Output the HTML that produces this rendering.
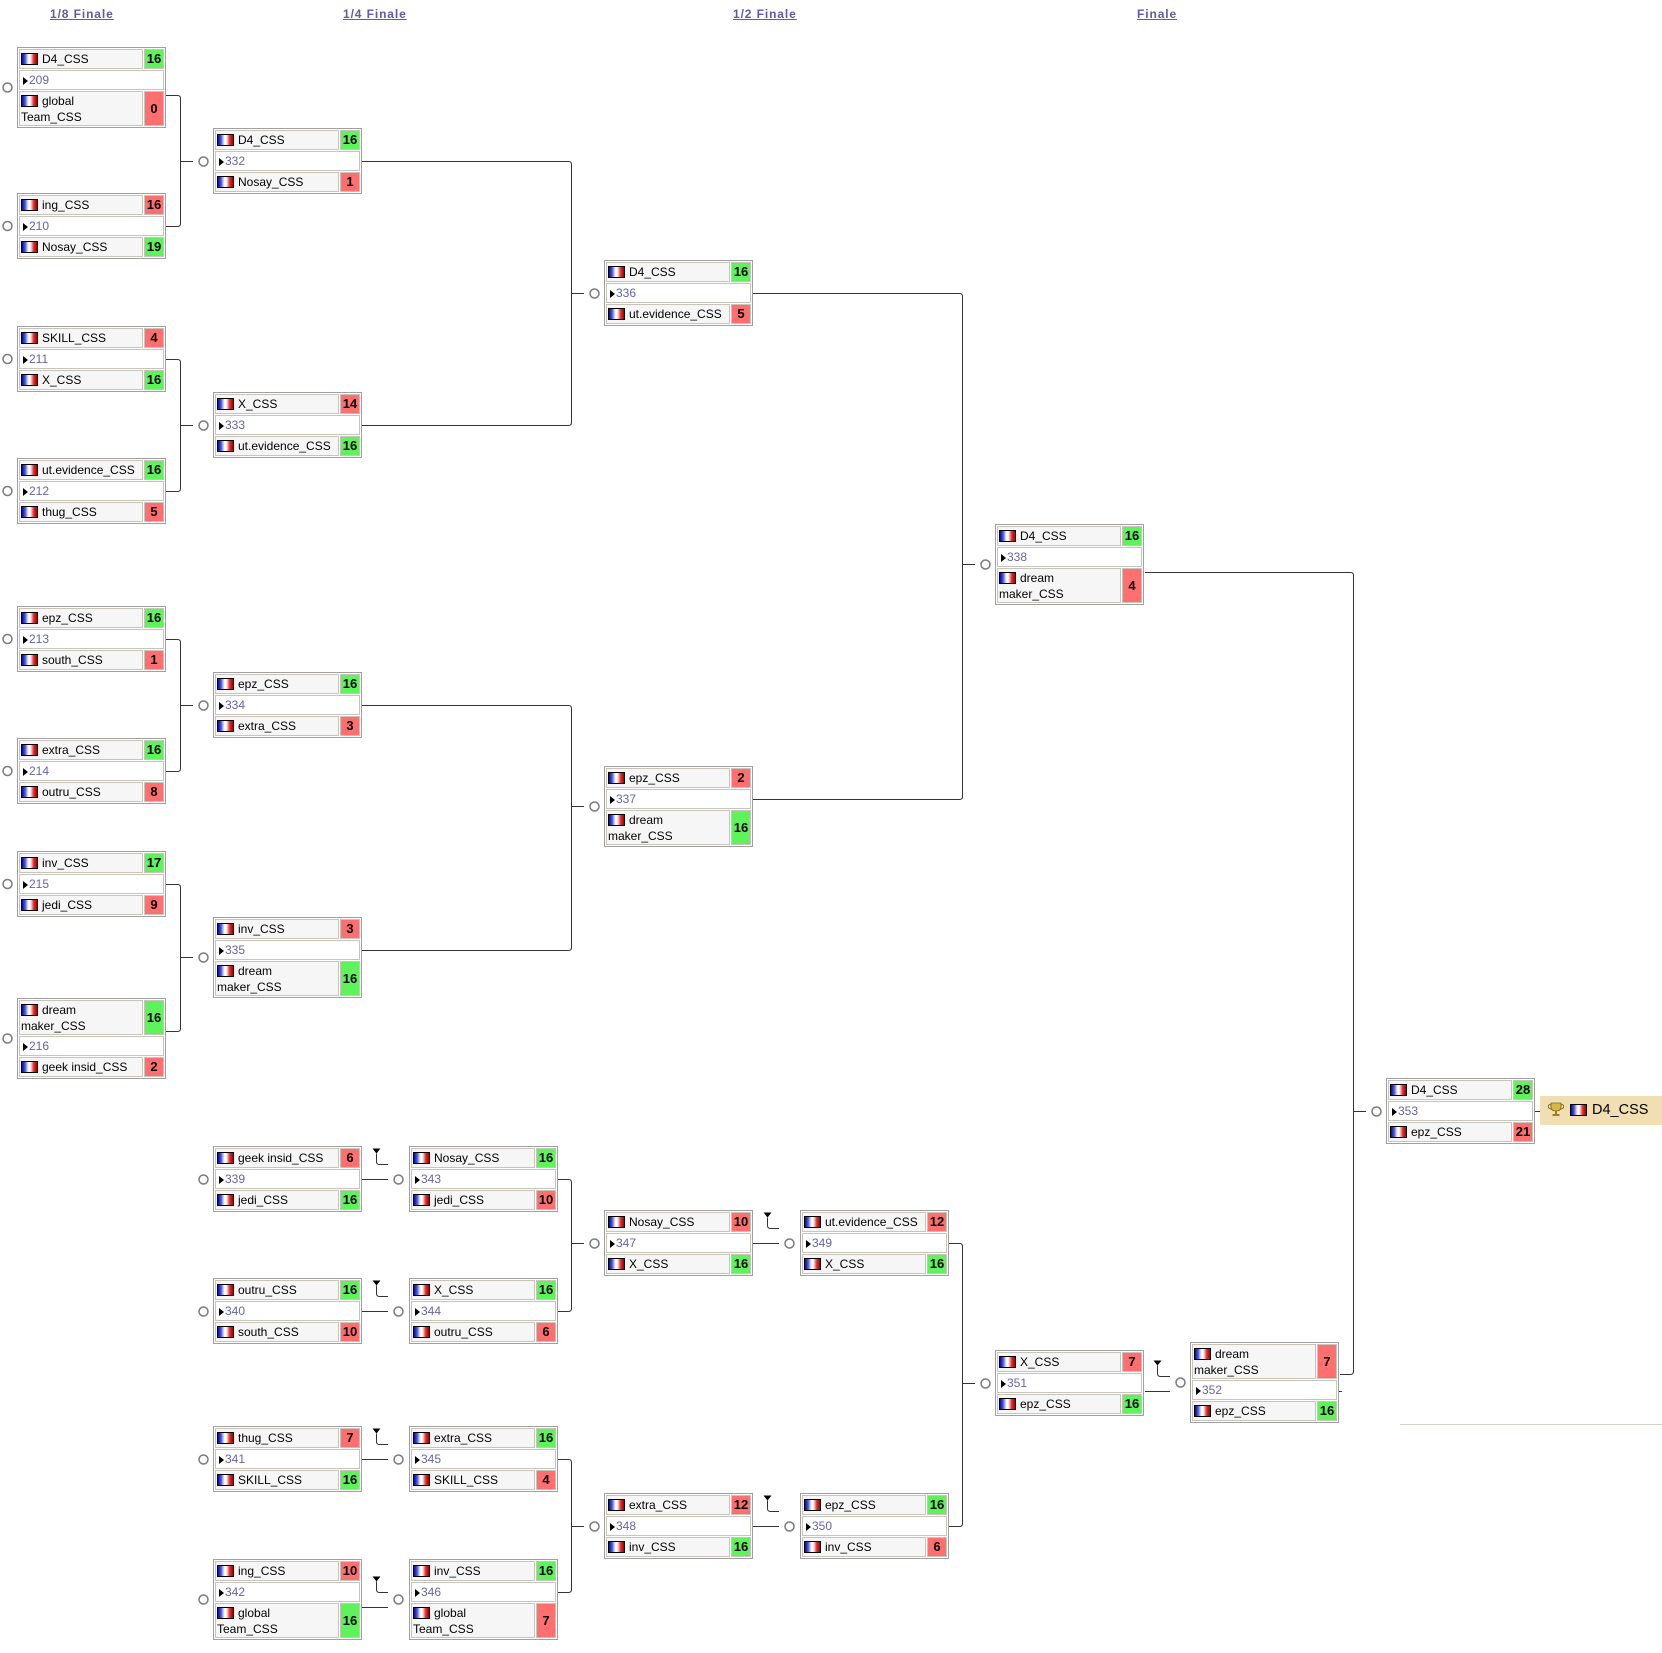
<!DOCTYPE html>
<html><head><meta charset="utf-8"><style>
body{margin:0;width:1662px;height:1653px;position:relative;background:#fff;font-family:"Liberation Sans",sans-serif;overflow:hidden}
.h{position:absolute;top:7px;font-size:12px;font-weight:bold;letter-spacing:0.9px;color:#5c5ca8;text-decoration:underline;line-height:14px}
.b{position:absolute;width:147px;height:64px;border:1px solid #a0a0a0;background:#fff}
.b.t{height:79px}
.c{position:absolute;box-sizing:border-box;border:1px solid #c8c4bc;background:#f6f6f6;font-size:12px;line-height:18px;padding-left:1px;white-space:nowrap;overflow:hidden;color:#000;height:20px}
.n{left:1px;width:124px}
.s{left:126px;width:20px;text-align:center;font-weight:bold;font-size:13px;padding:0}
.m{left:1px;width:145px;background:#fff}
.g{background:#5ef35a}.rd{background:#ff6f6f}
.tl{height:35px;line-height:15.5px;padding-top:2px;white-space:normal}
.s.tl{line-height:33px;padding-top:0}
.a{top:1px}.k{top:22px}.z{top:43px}.k2{top:37px}.z2{top:58px}
.f{display:inline-block;width:15px;height:9.6px;border:1px solid #000;vertical-align:-1.5px;margin:0 4px 0 0;background:linear-gradient(90deg,#0a0a8c,#4a5ee0 22%,#b8c0f0 34%,#fff 44%,#fff 54%,#f4b0b0 64%,#e03030 78%,#a00000)}
.tri{display:inline-block;width:0;height:0;border-left:5px solid #000;border-top:4.5px solid transparent;border-bottom:4.5px solid transparent;margin:0 1.5px 0 1.5px;vertical-align:-1px}
.num{color:#6464aa}
.w{position:absolute;left:1540px;top:1096px;width:122px;height:29px;background:#f1dfb3}
.w .f{position:absolute;left:30px;top:8px;margin:0}
.w span{position:absolute;left:52px;top:5px;font-size:14.5px;line-height:18px;color:#000}
svg{position:absolute;left:0;top:0}
</style></head><body>

<span class="h" style="left:50px">1/8 Finale</span>
<span class="h" style="left:343px">1/4 Finale</span>
<span class="h" style="left:733px">1/2 Finale</span>
<span class="h" style="left:1137px">Finale</span>

<svg width="1662" height="1653" viewBox="0 0 1662 1653">
<g fill="none" stroke="#333" stroke-width="1">
<path d="M166 95.5H177.5Q180.5 95.5 180.5 98.5V223.5Q180.5 226.5 177.5 226.5H166M180.5 161.5H193"/>
<path d="M166 359.5H177.5Q180.5 359.5 180.5 362.5V488.5Q180.5 491.5 177.5 491.5H166M180.5 425.5H193"/>
<path d="M166 639.5H177.5Q180.5 639.5 180.5 642.5V768.5Q180.5 771.5 177.5 771.5H166M180.5 705.5H193"/>
<path d="M166 884.5H177.5Q180.5 884.5 180.5 887.5V1028.5Q180.5 1031.5 177.5 1031.5H166M180.5 957.5H193"/>
<path d="M362 161.5H568.5Q571.5 161.5 571.5 164.5V422.5Q571.5 425.5 568.5 425.5H362M571.5 293.5H584"/>
<path d="M362 705.5H568.5Q571.5 705.5 571.5 708.5V947.5Q571.5 950.5 568.5 950.5H362M571.5 806.5H584"/>
<path d="M753 293.5H959.5Q962.5 293.5 962.5 296.5V796.5Q962.5 799.5 959.5 799.5H753M962.5 564.5H975"/>
<path d="M1145 572.5H1350.5Q1353.5 572.5 1353.5 575.5V1371.5Q1353.5 1374.5 1350.5 1374.5H1340M1353.5 1111.5H1366"/>
<path d="M557 1179.5H568.5Q571.5 1179.5 571.5 1182.5V1308.5Q571.5 1311.5 568.5 1311.5H557M571.5 1243.5H584"/>
<path d="M557 1459.5H568.5Q571.5 1459.5 571.5 1462.5V1589.5Q571.5 1592.5 568.5 1592.5H557M571.5 1526.5H584"/>
<path d="M949 1243.5H959.5Q962.5 1243.5 962.5 1246.5V1523.5Q962.5 1526.5 959.5 1526.5H949M962.5 1383.5H975"/>
<path d="M362 1179.5H388M362 1311.5H388M362 1459.5H388M362 1607.5H388M753 1243.5H779M753 1526.5H779M1145 1391.5H1170M1535 1111.5H1540M1339 1391.5H1342"/>
<path d="M376.5 1153.5V1161.5Q376.5 1164.5 379.5 1164.5H388"/>
<path d="M376.5 1285.5V1293.5Q376.5 1296.5 379.5 1296.5H388"/>
<path d="M376.5 1433.5V1441.5Q376.5 1444.5 379.5 1444.5H388"/>
<path d="M376.5 1581.5V1589.5Q376.5 1592.5 379.5 1592.5H388"/>
<path d="M767.5 1217.5V1225.5Q767.5 1228.5 770.5 1228.5H779"/>
<path d="M767.5 1500.5V1508.5Q767.5 1511.5 770.5 1511.5H779"/>
<path d="M1157.5 1365.5V1373.5Q1157.5 1376.5 1160.5 1376.5H1170"/>
</g>
<g fill="#000">
<polygon points="372.5,1148.5 380.5,1148.5 376.5,1153.5"/>
<polygon points="372.5,1280.5 380.5,1280.5 376.5,1285.5"/>
<polygon points="372.5,1428.5 380.5,1428.5 376.5,1433.5"/>
<polygon points="372.5,1576.5 380.5,1576.5 376.5,1581.5"/>
<polygon points="763.5,1212.5 771.5,1212.5 767.5,1217.5"/>
<polygon points="763.5,1495.5 771.5,1495.5 767.5,1500.5"/>
<polygon points="1153.5,1360.5 1161.5,1360.5 1157.5,1365.5"/>
</g>
<line x1="1400" y1="1424.5" x2="1662" y2="1424.5" stroke="#d4d0c8" stroke-width="1"/>
<g fill="#fff" stroke="#7a7a7a" stroke-width="1.5">
<circle cx="7.5" cy="87.5" r="4.5"/><circle cx="7.5" cy="226" r="4.5"/><circle cx="7.5" cy="359" r="4.5"/><circle cx="7.5" cy="491" r="4.5"/>
<circle cx="7.5" cy="639" r="4.5"/><circle cx="7.5" cy="771" r="4.5"/><circle cx="7.5" cy="884" r="4.5"/><circle cx="7.5" cy="1038.5" r="4.5"/>
<circle cx="203.5" cy="161.5" r="4.5"/><circle cx="203.5" cy="425.5" r="4.5"/><circle cx="203.5" cy="705.5" r="4.5"/><circle cx="203.5" cy="957.5" r="4.5"/>
<circle cx="203.5" cy="1179.5" r="4.5"/><circle cx="203.5" cy="1311.5" r="4.5"/><circle cx="203.5" cy="1459.5" r="4.5"/><circle cx="203.5" cy="1599.5" r="4.5"/>
<circle cx="398.5" cy="1179.5" r="4.5"/><circle cx="398.5" cy="1311.5" r="4.5"/><circle cx="398.5" cy="1459.5" r="4.5"/><circle cx="398.5" cy="1599.5" r="4.5"/>
<circle cx="594.5" cy="293.5" r="4.5"/><circle cx="594.5" cy="806.5" r="4.5"/><circle cx="594.5" cy="1243.5" r="4.5"/><circle cx="594.5" cy="1526.5" r="4.5"/>
<circle cx="789.5" cy="1243.5" r="4.5"/><circle cx="789.5" cy="1526.5" r="4.5"/>
<circle cx="985.5" cy="564.5" r="4.5"/><circle cx="985.5" cy="1383.5" r="4.5"/>
<circle cx="1180.5" cy="1382.5" r="4.5"/><circle cx="1376.5" cy="1111.5" r="4.5"/>
</g>
</svg>

<!-- 1/8 -->
<div class="b t" style="left:17px;top:47px">
<div class="c n a"><i class="f"></i>D4_CSS</div><div class="c s g a">16</div>
<div class="c m k"><i class="tri"></i><span class="num">209</span></div>
<div class="c n z tl"><i class="f"></i>global<br>Team_CSS</div><div class="c s rd z tl">0</div></div>

<div class="b" style="left:17px;top:193px">
<div class="c n a"><i class="f"></i>ing_CSS</div><div class="c s rd a">16</div>
<div class="c m k"><i class="tri"></i><span class="num">210</span></div>
<div class="c n z"><i class="f"></i>Nosay_CSS</div><div class="c s g z">19</div></div>

<div class="b" style="left:17px;top:326px">
<div class="c n a"><i class="f"></i>SKILL_CSS</div><div class="c s rd a">4</div>
<div class="c m k"><i class="tri"></i><span class="num">211</span></div>
<div class="c n z"><i class="f"></i>X_CSS</div><div class="c s g z">16</div></div>

<div class="b" style="left:17px;top:458px">
<div class="c n a"><i class="f"></i>ut.evidence_CSS</div><div class="c s g a">16</div>
<div class="c m k"><i class="tri"></i><span class="num">212</span></div>
<div class="c n z"><i class="f"></i>thug_CSS</div><div class="c s rd z">5</div></div>

<div class="b" style="left:17px;top:606px">
<div class="c n a"><i class="f"></i>epz_CSS</div><div class="c s g a">16</div>
<div class="c m k"><i class="tri"></i><span class="num">213</span></div>
<div class="c n z"><i class="f"></i>south_CSS</div><div class="c s rd z">1</div></div>

<div class="b" style="left:17px;top:738px">
<div class="c n a"><i class="f"></i>extra_CSS</div><div class="c s g a">16</div>
<div class="c m k"><i class="tri"></i><span class="num">214</span></div>
<div class="c n z"><i class="f"></i>outru_CSS</div><div class="c s rd z">8</div></div>

<div class="b" style="left:17px;top:851px">
<div class="c n a"><i class="f"></i>inv_CSS</div><div class="c s g a">17</div>
<div class="c m k"><i class="tri"></i><span class="num">215</span></div>
<div class="c n z"><i class="f"></i>jedi_CSS</div><div class="c s rd z">9</div></div>

<div class="b t" style="left:17px;top:998px">
<div class="c n a tl"><i class="f"></i>dream<br>maker_CSS</div><div class="c s g a tl">16</div>
<div class="c m k2"><i class="tri"></i><span class="num">216</span></div>
<div class="c n z2"><i class="f"></i>geek insid_CSS</div><div class="c s rd z2">2</div></div>

<!-- 1/4 -->
<div class="b" style="left:213px;top:128px">
<div class="c n a"><i class="f"></i>D4_CSS</div><div class="c s g a">16</div>
<div class="c m k"><i class="tri"></i><span class="num">332</span></div>
<div class="c n z"><i class="f"></i>Nosay_CSS</div><div class="c s rd z">1</div></div>

<div class="b" style="left:213px;top:392px">
<div class="c n a"><i class="f"></i>X_CSS</div><div class="c s rd a">14</div>
<div class="c m k"><i class="tri"></i><span class="num">333</span></div>
<div class="c n z"><i class="f"></i>ut.evidence_CSS</div><div class="c s g z">16</div></div>

<div class="b" style="left:213px;top:672px">
<div class="c n a"><i class="f"></i>epz_CSS</div><div class="c s g a">16</div>
<div class="c m k"><i class="tri"></i><span class="num">334</span></div>
<div class="c n z"><i class="f"></i>extra_CSS</div><div class="c s rd z">3</div></div>

<div class="b t" style="left:213px;top:917px">
<div class="c n a"><i class="f"></i>inv_CSS</div><div class="c s rd a">3</div>
<div class="c m k"><i class="tri"></i><span class="num">335</span></div>
<div class="c n z tl"><i class="f"></i>dream<br>maker_CSS</div><div class="c s g z tl">16</div></div>

<!-- 1/2 -->
<div class="b" style="left:604px;top:260px">
<div class="c n a"><i class="f"></i>D4_CSS</div><div class="c s g a">16</div>
<div class="c m k"><i class="tri"></i><span class="num">336</span></div>
<div class="c n z"><i class="f"></i>ut.evidence_CSS</div><div class="c s rd z">5</div></div>

<div class="b t" style="left:604px;top:766px">
<div class="c n a"><i class="f"></i>epz_CSS</div><div class="c s rd a">2</div>
<div class="c m k"><i class="tri"></i><span class="num">337</span></div>
<div class="c n z tl"><i class="f"></i>dream<br>maker_CSS</div><div class="c s g z tl">16</div></div>

<!-- Finale -->
<div class="b t" style="left:995px;top:524px">
<div class="c n a"><i class="f"></i>D4_CSS</div><div class="c s g a">16</div>
<div class="c m k"><i class="tri"></i><span class="num">338</span></div>
<div class="c n z tl"><i class="f"></i>dream<br>maker_CSS</div><div class="c s rd z tl">4</div></div>

<div class="b" style="left:1386px;top:1078px">
<div class="c n a"><i class="f"></i>D4_CSS</div><div class="c s g a">28</div>
<div class="c m k"><i class="tri"></i><span class="num">353</span></div>
<div class="c n z"><i class="f"></i>epz_CSS</div><div class="c s rd z">21</div></div>

<div class="w">
<svg width="22" height="20" style="left:6px;top:5px" viewBox="0 0 22 20">
<path d="M5 2H15V6Q15 10 10 10Q5 10 5 6Z" fill="#d6b848" stroke="#7a6418" stroke-width="0.8"/>
<path d="M5 3.5Q1.5 3.5 2.5 6.5Q3.5 8 5.5 8M15 3.5Q18.5 3.5 17.5 6.5Q16.5 8 14.5 8" fill="none" stroke="#7a6418" stroke-width="0.9"/>
<rect x="9" y="10" width="2" height="3" fill="#9a8028"/>
<rect x="6.5" y="13" width="7" height="2" fill="#9a8028"/>
</svg>
<i class="f"></i><span>D4_CSS</span></div>

<!-- Loser bracket -->
<div class="b" style="left:213px;top:1146px">
<div class="c n a"><i class="f"></i>geek insid_CSS</div><div class="c s rd a">6</div>
<div class="c m k"><i class="tri"></i><span class="num">339</span></div>
<div class="c n z"><i class="f"></i>jedi_CSS</div><div class="c s g z">16</div></div>

<div class="b" style="left:213px;top:1278px">
<div class="c n a"><i class="f"></i>outru_CSS</div><div class="c s g a">16</div>
<div class="c m k"><i class="tri"></i><span class="num">340</span></div>
<div class="c n z"><i class="f"></i>south_CSS</div><div class="c s rd z">10</div></div>

<div class="b" style="left:213px;top:1426px">
<div class="c n a"><i class="f"></i>thug_CSS</div><div class="c s rd a">7</div>
<div class="c m k"><i class="tri"></i><span class="num">341</span></div>
<div class="c n z"><i class="f"></i>SKILL_CSS</div><div class="c s g z">16</div></div>

<div class="b t" style="left:213px;top:1559px">
<div class="c n a"><i class="f"></i>ing_CSS</div><div class="c s rd a">10</div>
<div class="c m k"><i class="tri"></i><span class="num">342</span></div>
<div class="c n z tl"><i class="f"></i>global<br>Team_CSS</div><div class="c s g z tl">16</div></div>

<div class="b" style="left:409px;top:1146px">
<div class="c n a"><i class="f"></i>Nosay_CSS</div><div class="c s g a">16</div>
<div class="c m k"><i class="tri"></i><span class="num">343</span></div>
<div class="c n z"><i class="f"></i>jedi_CSS</div><div class="c s rd z">10</div></div>

<div class="b" style="left:409px;top:1278px">
<div class="c n a"><i class="f"></i>X_CSS</div><div class="c s g a">16</div>
<div class="c m k"><i class="tri"></i><span class="num">344</span></div>
<div class="c n z"><i class="f"></i>outru_CSS</div><div class="c s rd z">6</div></div>

<div class="b" style="left:409px;top:1426px">
<div class="c n a"><i class="f"></i>extra_CSS</div><div class="c s g a">16</div>
<div class="c m k"><i class="tri"></i><span class="num">345</span></div>
<div class="c n z"><i class="f"></i>SKILL_CSS</div><div class="c s rd z">4</div></div>

<div class="b t" style="left:409px;top:1559px">
<div class="c n a"><i class="f"></i>inv_CSS</div><div class="c s g a">16</div>
<div class="c m k"><i class="tri"></i><span class="num">346</span></div>
<div class="c n z tl"><i class="f"></i>global<br>Team_CSS</div><div class="c s rd z tl">7</div></div>

<div class="b" style="left:604px;top:1210px">
<div class="c n a"><i class="f"></i>Nosay_CSS</div><div class="c s rd a">10</div>
<div class="c m k"><i class="tri"></i><span class="num">347</span></div>
<div class="c n z"><i class="f"></i>X_CSS</div><div class="c s g z">16</div></div>

<div class="b" style="left:604px;top:1493px">
<div class="c n a"><i class="f"></i>extra_CSS</div><div class="c s rd a">12</div>
<div class="c m k"><i class="tri"></i><span class="num">348</span></div>
<div class="c n z"><i class="f"></i>inv_CSS</div><div class="c s g z">16</div></div>

<div class="b" style="left:800px;top:1210px">
<div class="c n a"><i class="f"></i>ut.evidence_CSS</div><div class="c s rd a">12</div>
<div class="c m k"><i class="tri"></i><span class="num">349</span></div>
<div class="c n z"><i class="f"></i>X_CSS</div><div class="c s g z">16</div></div>

<div class="b" style="left:800px;top:1493px">
<div class="c n a"><i class="f"></i>epz_CSS</div><div class="c s g a">16</div>
<div class="c m k"><i class="tri"></i><span class="num">350</span></div>
<div class="c n z"><i class="f"></i>inv_CSS</div><div class="c s rd z">6</div></div>

<div class="b" style="left:995px;top:1350px">
<div class="c n a"><i class="f"></i>X_CSS</div><div class="c s rd a">7</div>
<div class="c m k"><i class="tri"></i><span class="num">351</span></div>
<div class="c n z"><i class="f"></i>epz_CSS</div><div class="c s g z">16</div></div>

<div class="b t" style="left:1190px;top:1342px">
<div class="c n a tl"><i class="f"></i>dream<br>maker_CSS</div><div class="c s rd a tl">7</div>
<div class="c m k2"><i class="tri"></i><span class="num">352</span></div>
<div class="c n z2"><i class="f"></i>epz_CSS</div><div class="c s g z2">16</div></div>

</body></html>
